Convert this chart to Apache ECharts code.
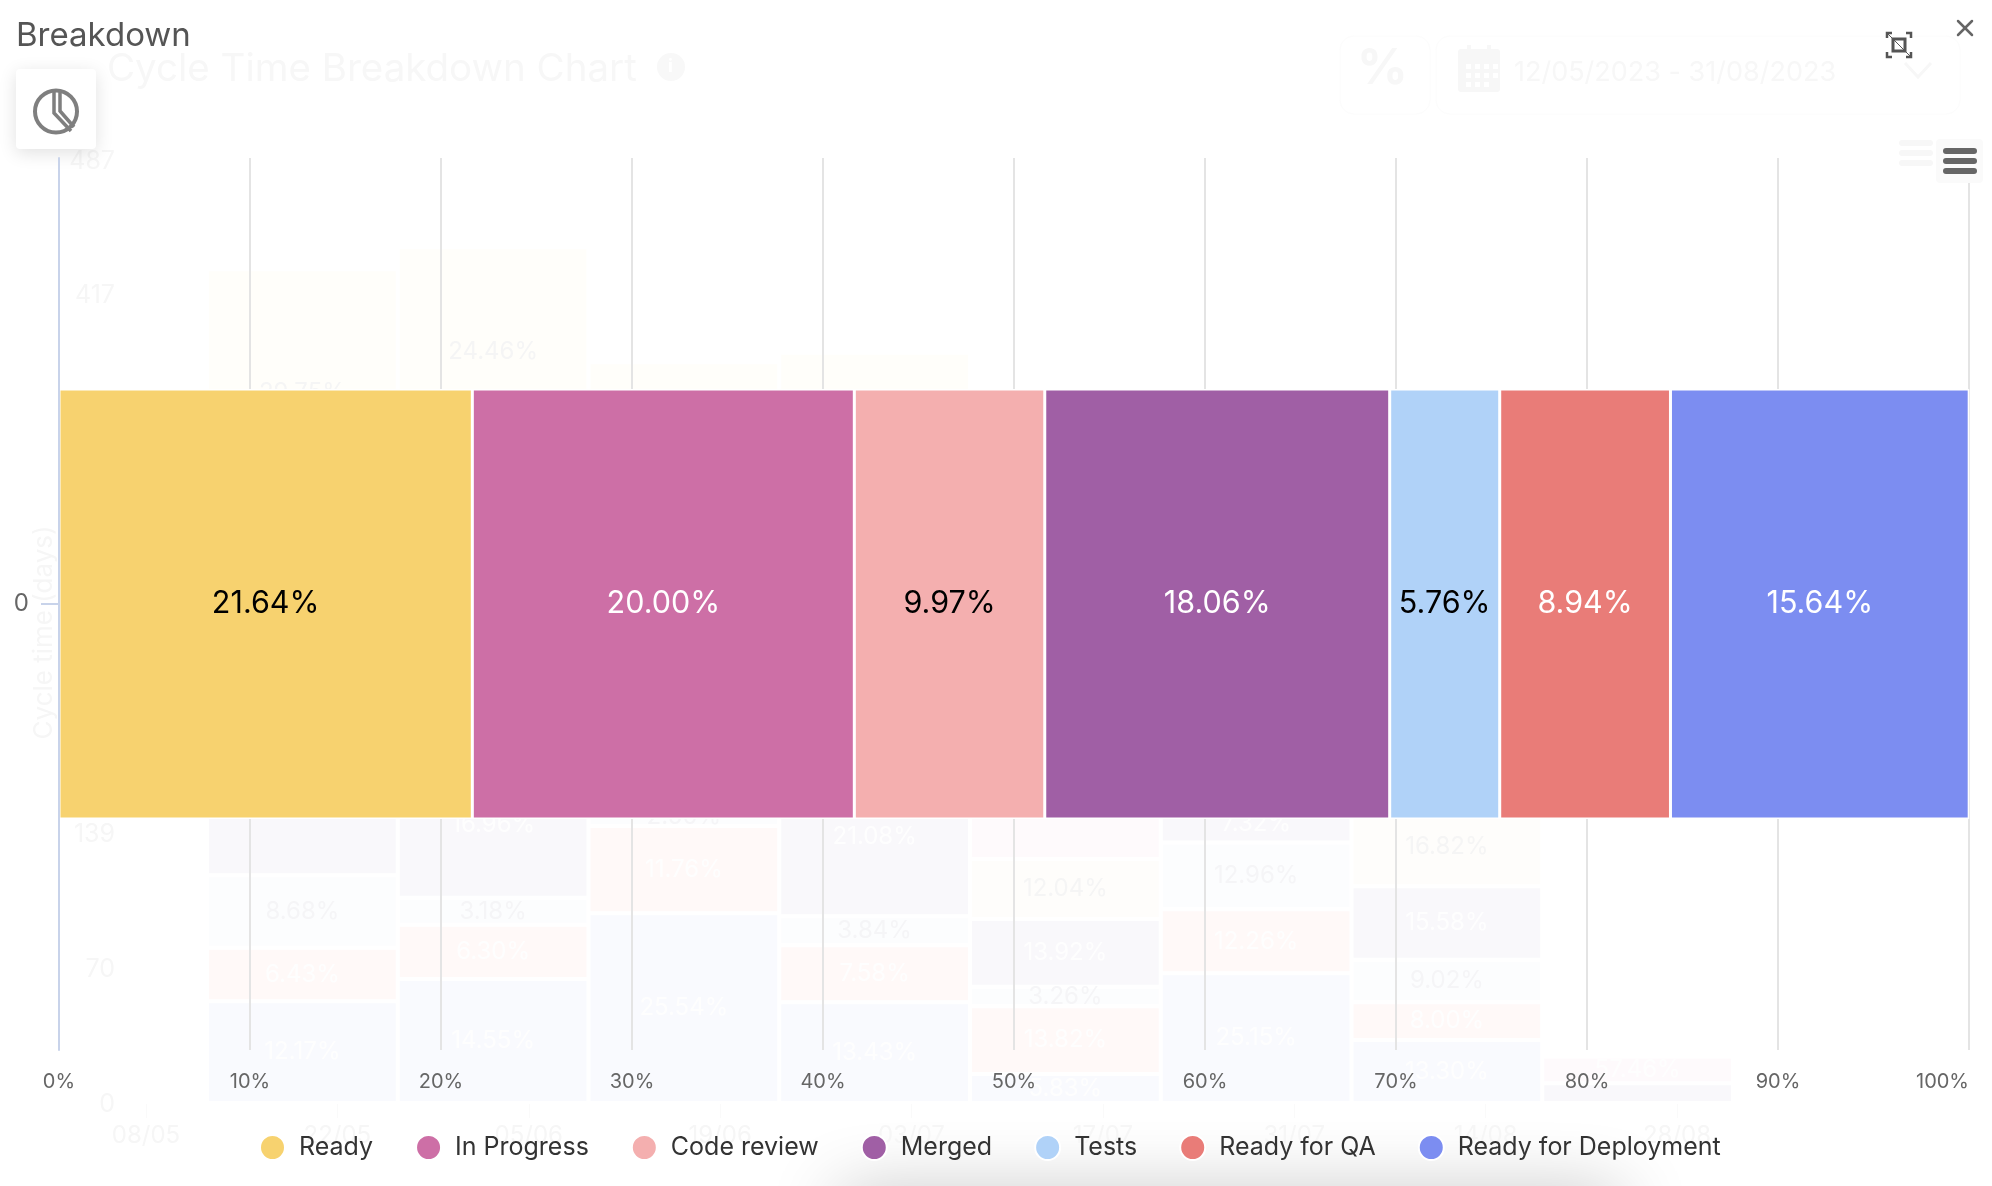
<!DOCTYPE html>
<html>
<head>
<meta charset="utf-8">
<style>html,body{margin:0;padding:0;background:#fff}#c{width:1992px;height:1186px}</style>
<script src="https://cdn.jsdelivr.net/npm/echarts@6/dist/echarts.min.js"></script>
</head>
<body>
<div id="c"></div>
<script>
// Foreground chart: share of cycle time per stage (%)
const stages = ['Ready','In Progress','Code review','Merged','Tests','Ready for QA','Ready for Deployment'];
const stageShares = [21.64,20.00,9.97,18.06,5.76,8.94,15.64];
const stageColors = ['#F7D26F','#CD6FA6','#F4AFAF','#A05FA5','#B0D2F8','#E97C78','#7C8DF1'];
const stageLabelColors = ['#000','#fff','#000','#fff','#000','#fff','#fff'];

// Faded chart behind the modal: days per stage, per two-week window
const windowStarts = ['12/05','26/05','09/06','23/06','07/07','21/07','04/08','18/08'];
const dateTicks = ['08/05','22/05','05/06','19/06','03/07','17/07','31/07','14/08','28/08'];
const daysDeployment = [52.5,64,98,52,15,67,32.5,null];
const daysQA = [27.7,28,45,29.5,35,33,19.5,null];
const daysTests = [37.4,14,9.6,15,10,34.5,22,null];
const daysMerged = [62,75,31,82,35,19.5,38,10.2];
const daysCode = [38,40,30,39,31,24,41,null];
const daysProgress = [85,113,77,85,46,35,39,13.8];
const daysReady = [128,108,92,85,85,53,52,null];
const pctDeployment = ['12.17%','14.55%','25.54%','13.43%','5.83%','25.15%','13.30%',''];
const pctQA = ['6.43%','6.30%','11.76%','7.58%','13.82%','12.26%','8.00%',''];
const pctTests = ['8.68%','3.18%','2.50%','3.84%','3.26%','12.96%','9.02%',''];
const pctMerged = ['','16.96%','','21.08%','13.92%','7.32%','15.58%',''];
const pctCode = ['','','','','12.04%','','16.82%',''];
const pctProgress = ['','','','','','','','57.46%'];
const pctReady = ['29.75%','24.46%','','','','','',''];

const FONT = 'Inter, "Noto Sans", sans-serif';
const F = '#f7f7f7';
const DAYS_MAX = 487;

const ghostDefs = [
  ['Ready for Deployment', daysDeployment, pctDeployment, '#f9fafe', '#fefefe'],
  ['Ready for QA', daysQA, pctQA, '#fff9f8', '#fefefe'],
  ['Tests', daysTests, pctTests, '#fcfdfe', '#f5f5f7'],
  ['Merged', daysMerged, pctMerged, '#f9f8fb', '#fefefe'],
  ['Code review', daysCode, pctCode, '#fefdfb', '#f5f5f5'],
  ['In Progress', daysProgress, pctProgress, '#fefafc', '#fefefe'],
  ['Ready', daysReady, pctReady, '#fffefa', '#f5f5f5']
];

const mainSeries = stages.map((name,i)=>({
  name, type:'bar', stack:'share', xAxisIndex:0, yAxisIndex:0, z:10, barWidth:430,
  data:[stageShares[i]],
  itemStyle:{color:stageColors[i], borderColor:'#fff', borderWidth:1.5},
  label:{show:true, position:'inside', color:stageLabelColors[i], fontFamily:FONT, fontSize:30.5,
    formatter:p=>p.value.toFixed(2)+'%'}
}));

const ghostSeries = ghostDefs.map(([name,days,pct,color,labelColor])=>({
  name, type:'bar', stack:'days', xAxisIndex:1, yAxisIndex:1, z:1, barWidth:'100%',
  silent:true,
  data:days,
  itemStyle:{color, borderColor:'#fff', borderWidth:2},
  label:{show:true, position:'inside', color:labelColor, fontFamily:FONT, fontSize:24,
    formatter:p=>pct[p.dataIndex]}
}));

function R(x,y,w,h,fill,r,extra){return Object.assign({type:'rect',shape:{x,y,width:w,height:h,r:r||0},style:{fill}},extra||{});}
function P(points,stroke,lw,extra){return Object.assign({type:'polyline',shape:{points},style:{fill:'none',stroke,lineWidth:lw}},extra||{});}
function T(x,y,text,size,fill,extra){return {type:'text',x,y,style:Object.assign({text,fontSize:size,fontFamily:FONT,fill,textVerticalAlign:'middle'},extra||{})};}
function L(x1,y1,x2,y2,stroke,lw){return {type:'line',shape:{x1,y1,x2,y2},style:{stroke,lineWidth:lw,lineCap:'round'}};}

const calendarDots = [];
[[1466,64],[1475,64],[1484,64],[1493,64],[1466,73],[1475,73],[1484,73],[1493,73],[1466,82],[1475,82],[1484,82]]
  .forEach(([x,y])=>calendarDots.push(R(x,y,5,5,'#fff',0,{z:1})));

const graphics = [
  // shadow rising from below the page
  R(840,1196,780,40,'#cfcfcf',0,{z:-5,style:{fill:'#cfcfcf',shadowBlur:70,shadowColor:'rgba(0,0,0,0.3)'}}),
  // faded header of the chart behind
  T(107,69,'Cycle Time Breakdown Chart',38.5,F),
  {type:'circle',shape:{cx:671,cy:67,r:14},style:{fill:'#f8f8f8'}},
  T(668,67,'i',18,'#fff',{fontWeight:'bold'}),
  R(1340,36,90,78,'#fff',14,{style:{fill:'#fff',stroke:'#fcfcfc',lineWidth:1}}),
  R(1436,36,524,78,'#fff',14,{style:{fill:'#fff',stroke:'#fcfcfc',lineWidth:1}}),
  T(1357,69,'%',50,F,{fontWeight:'bold'}),
  R(1458,49,42,43,F,3),
  R(1467,45,4,8,F),R(1487,45,4,8,F),
  ...calendarDots,
  T(1514,73,'12/05/2023 - 31/08/2023',27,F),
  P([[1905,63],[1918,77],[1931,63]],F,3),
  R(1899,140,34,6,F,3),R(1899,150,34,6,F,3),R(1899,160,34,6,F,3),
  // modal chrome
  T(16,36,'Breakdown',33,'#555555'),
  R(16,69,80,80,'#fff',4,{z:5,style:{fill:'#fff',shadowBlur:18,shadowColor:'rgba(0,0,0,0.12)',shadowOffsetY:4}}),
  {type:'circle',z:6,shape:{cx:56,cy:111.5,r:21},style:{fill:'none',stroke:'#7f7f7f',lineWidth:4}},
  P([[54,90],[54,113],[71,131]],'#7f7f7f',3.5,{z:6}),
  P([[60,90],[60,111],[74,127]],'#7f7f7f',3.5,{z:6}),
  L(1958,21,1972,35,'#666',2.5),L(1972,21,1958,35,'#666',2.5),
  P([[1887,38],[1887,33],[1892,33]],'#555',2.5),
  P([[1906,33],[1911,33],[1911,38]],'#555',2.5),
  P([[1911,52],[1911,57],[1906,57]],'#555',2.5),
  P([[1892,57],[1887,57],[1887,52]],'#555',2.5),
  R(1893,39,12,12,'none',0,{style:{fill:'none',stroke:'#555',lineWidth:3}}),
  L(1887,33,1911,57,'#555',1),
  R(1936,139,47,44,'#fafafa',4,{z:20}),
  R(1943,148,34,6,'#666',3,{z:21}),R(1943,158,34,6,'#666',3,{z:21}),R(1943,168,34,6,'#666',3,{z:21})
];

const chart = echarts.init(document.getElementById('c'),null,{renderer:'canvas'});
chart.setOption({
  animation:false,
  backgroundColor:'#fff',
  textStyle:{fontFamily:FONT},
  grid:[
    {left:59,top:158,width:1910,height:892},   // foreground share bar
    {left:207,top:160,width:1526,height:943},  // faded stacked bars
    {left:146,top:161,width:1531,height:943}   // faded axes
  ],
  xAxis:[
    {type:'value',gridIndex:0,min:0,max:100,interval:10,z:5,
      axisLine:{show:false},axisTick:{show:false},
      splitLine:{show:true,lineStyle:{color:'#e4e4e4',width:2}},
      axisLabel:{color:'#666',fontSize:20,fontFamily:FONT,margin:22,alignMaxLabel:'right',
        formatter:v=>v+'%'}},
    {type:'category',gridIndex:1,data:windowStarts,show:false},
    {type:'value',gridIndex:2,min:0,max:dateTicks.length-1,interval:1,z:0,
      axisLine:{show:false},splitLine:{show:false},
      axisTick:{show:true,length:14,lineStyle:{color:'#fafafa'}},
      axisLabel:{color:'#f6f6f6',fontSize:24,fontFamily:FONT,margin:20,
        formatter:v=>dateTicks[v]}}
  ],
  yAxis:[
    {type:'category',gridIndex:0,data:['0'],z:11,
      axisLine:{show:true,lineStyle:{color:'#c8d3ea',width:2}},
      axisTick:{show:true,alignWithLabel:true,length:18,lineStyle:{color:'#c8d3ea',width:2}},
      axisLabel:{color:'#666',fontSize:24,fontFamily:FONT,margin:30}},
    {type:'value',gridIndex:1,min:0,max:DAYS_MAX,show:false},
    {type:'value',gridIndex:2,min:0,max:DAYS_MAX,interval:DAYS_MAX/7,z:0,
      axisLine:{show:false},axisTick:{show:false},splitLine:{show:false},
      axisLabel:{color:'#f6f6f6',fontSize:25,fontFamily:FONT,margin:31,formatter:v=>Math.round(v)},
      name:'Cycle time (days)',nameLocation:'middle',nameRotate:90,nameGap:74,
      nameTextStyle:{color:'#f6f6f6',fontSize:26,fontFamily:FONT}}
  ],
  legend:{
    show:true,left:254,top:1129,icon:'circle',itemWidth:25,itemHeight:25,itemGap:42,
    data:stages,selectedMode:false,
    textStyle:{color:'#333',fontSize:25,fontFamily:FONT,padding:[0,0,0,9]}
  },
  tooltip:{show:false},
  graphic:{elements:graphics},
  series:[...mainSeries,...ghostSeries]
});
</script>
</body>
</html>
